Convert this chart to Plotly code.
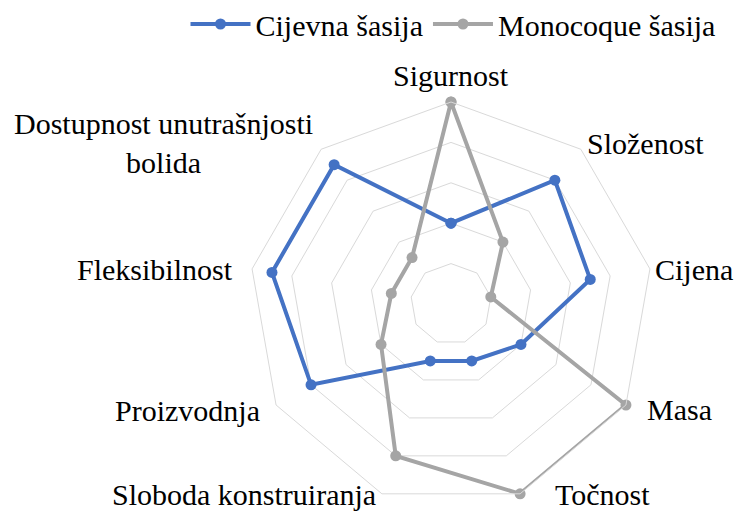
import math
import plotly.graph_objects as go

categories = ["Sigurnost", "Složenost", "Cijena", "Masa", "Točnost",
              "Sloboda konstruiranja", "Proizvodnja", "Fleksibilnost",
              "Dostupnost unutrašnjosti<br>bolida"]
cijevna = [2, 4, 3.5, 2, 1.5, 1.5, 4, 4.5, 4.5]
monocoque = [5, 2, 1, 5, 5, 4, 2, 1.5, 1.5]

series = [("Cijevna šasija", cijevna, "#4472C4"),
          ("Monocoque šasija", monocoque, "#A5A5A5")]

# the page body has an 8px margin; keep the figure inside the window
W, H = 736, 503
OFF = 8
# polar area (window pixels): centre and radius
CX, CY, R = 451 - OFF, 304 - OFF, 202

fig = go.Figure()
for name, vals, col in series:
    fig.add_trace(go.Scatterpolar(
        r=vals + vals[:1], theta=categories + categories[:1],
        mode="lines+markers", name=name,
        line=dict(color=col, width=4),
        marker=dict(color=col, size=11),
    ))

label_font = dict(family="Liberation Serif, Times New Roman, serif", size=30, color="#000000")
legend_font = dict(family="Liberation Serif, Times New Roman, serif", size=30, color="#000000")

# label placement: offset from the outer vertex (px), anchor
label_style = [
    (0, -26, "center"), (4, -6, "left"), (3, 1, "left"), (19, 5, "left"),
    (33, 1, "left"), (-4, 1, "right"), (-14, 5, "right"), (-17, 1, "right"),
    (-158, -6, "center"),
]
annotations = []
n = len(categories)
for i, (cat, (dx, dy, anc)) in enumerate(zip(categories, label_style)):
    ang = math.radians(360 * i / n)
    vx = CX + R * math.sin(ang) + dx
    vy = CY - R * math.cos(ang) + dy
    annotations.append(dict(
        text=cat, x=vx / W, y=1 - vy / H, xref="paper", yref="paper",
        xanchor=anc, yanchor="middle", align="center", showarrow=False,
        font=label_font,
    ))

fig.update_layout(
    width=W, height=H,
    margin=dict(l=0, r=0, t=0, b=0, autoexpand=False),
    paper_bgcolor="white", plot_bgcolor="white",
    font=legend_font,
    showlegend=True,
    legend=dict(orientation="h", x=(453 - OFF) / W, xanchor="center", y=1 + 10 / H,
                yanchor="top", font=legend_font, bgcolor="rgba(0,0,0,0)", itemwidth=60),
    annotations=annotations,
    polar=dict(
        domain=dict(x=[(CX - R) / W, (CX + R) / W], y=[1 - (CY + R) / H, 1 - (CY - R) / H]),
        gridshape="linear",
        bgcolor="white",
        radialaxis=dict(range=[0, 5], dtick=1, showticklabels=False, ticks="",
                        showline=False, gridcolor="#D9D9D9", gridwidth=1),
        angularaxis=dict(direction="clockwise", rotation=90, showgrid=False,
                         showline=True, linecolor="#D9D9D9", linewidth=1,
                         ticks="", showticklabels=False),
    ),
)
fig.write_html("out.html")
